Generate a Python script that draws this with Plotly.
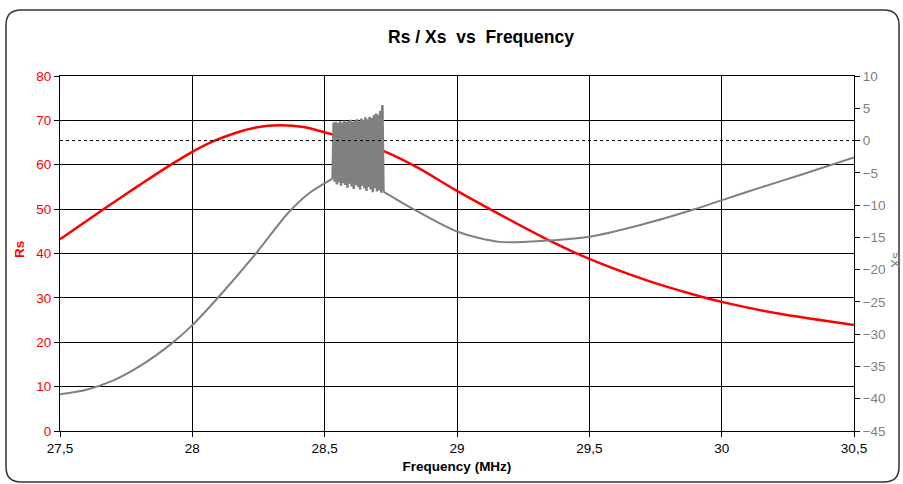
import plotly.graph_objects as go

# ---------------- data ----------------
freq_rs = [27.50, 27.67, 27.80, 27.90, 28.00, 28.08, 28.16, 28.24, 28.33, 28.42, 28.50, 28.62,
           28.73, 28.85, 29.00, 29.14, 29.34, 29.50, 29.72, 29.88, 30.00, 30.22, 30.50]
rs_vals = [43.2, 50.2, 55.4, 59.3, 62.9, 65.3, 67.1, 68.4, 68.9, 68.5, 67.3, 65.3,
           62.9, 59.4, 54.1, 49.5, 43.2, 38.8, 33.9, 31.0, 29.1, 26.4, 23.9]

freq_xs_pre = [27.50, 27.60, 27.70, 27.80, 27.92, 28.00, 28.10, 28.24, 28.36, 28.44, 28.53]
xs_pre = [-39.3, -38.6, -37.2, -35.0, -31.5, -28.6, -24.2, -17.5, -11.3, -8.2, -5.9]

freq_xs_noise = [28.530, 28.534, 28.538, 28.542, 28.546, 28.550, 28.554, 28.558, 28.562, 28.566,
                 28.570, 28.574, 28.578, 28.582, 28.586, 28.590, 28.594, 28.598, 28.602, 28.606,
                 28.610, 28.614, 28.618, 28.622, 28.626, 28.630, 28.634, 28.638, 28.642, 28.646,
                 28.650, 28.654, 28.658, 28.662, 28.666, 28.670, 28.674, 28.678, 28.682, 28.686,
                 28.690, 28.694, 28.698, 28.702, 28.706, 28.710, 28.714, 28.718, 28.722]
xs_noise = [-5.9, 2.8, -6.4, 2.9, -6.8, 2.7, -6.5, 3.0, -7.0, 2.8,
            -6.6, 3.1, -6.9, 2.9, -7.3, 3.0, -6.7, 3.2, -7.1, 2.9,
            -7.5, 3.1, -6.9, 3.3, -7.2, 3.0, -7.6, 3.4, -7.0, 3.2,
            -7.4, 3.6, -7.8, 3.3, -7.2, 3.7, -7.6, 3.5, -8.0, 3.9,
            -7.4, 4.2, -7.9, 4.0, -7.7, 4.6, -8.1, 5.5, -7.9]

freq_xs_post = [28.722, 28.83, 29.00, 29.16, 29.34, 29.50, 29.70, 29.90, 30.10, 30.30, 30.50]
xs_post = [-7.9, -10.5, -14.1, -15.7, -15.5, -14.9, -13.0, -10.6, -7.9, -5.3, -2.6]

x_ticks = [27.5, 28, 28.5, 29, 29.5, 30, 30.5]

# ---------------- figure ----------------
FONT = "Liberation Sans, Arial, sans-serif"
RED = "#ff0000"
GRAY = "#808080"

fig = go.Figure()
fig.add_trace(go.Scatter(x=freq_rs, y=rs_vals, mode="lines",
                         line=dict(color=RED, width=2.5, shape="spline", smoothing=0.8),
                         name="Rs", yaxis="y"))
fig.add_trace(go.Scatter(x=freq_xs_pre, y=xs_pre, mode="lines",
                         line=dict(color=GRAY, width=2, shape="spline", smoothing=0.8),
                         name="Xs", yaxis="y2"))
fig.add_trace(go.Scatter(x=freq_xs_noise, y=xs_noise, mode="lines", line=dict(color=GRAY, width=2.6),
                         name="Xs", yaxis="y2"))
fig.add_trace(go.Scatter(x=freq_xs_post, y=xs_post, mode="lines",
                         line=dict(color=GRAY, width=2, shape="spline", smoothing=0.8),
                         name="Xs", yaxis="y2"))

L, R, T, B, W, H = 60, 49, 76, 53, 903, 484
pw, ph = W - L - R, H - T - B


def P(px, py):
    return f"{(px - L) / pw:.5f},{(H - B - py) / ph:.5f}"


r = 15
x0, x1, y0, y1 = 6, 899, 10, 482
border = (f"M {P(x0, y0 + r)} Q {P(x0, y0)} {P(x0 + r, y0)} L {P(x1 - r, y0)} "
          f"Q {P(x1, y0)} {P(x1, y0 + r)} L {P(x1, y1 - r)} Q {P(x1, y1)} {P(x1 - r, y1)} "
          f"L {P(x0 + r, y1)} Q {P(x0, y1)} {P(x0, y1 - r)} Z")

fig.update_layout(
    width=W, height=H,
    margin=dict(l=L, r=R, t=T, b=B, autoexpand=False),
    paper_bgcolor="white", plot_bgcolor="white",
    separators=",.",
    showlegend=False,
    font=dict(family=FONT, size=13, color="black"),
    title=dict(text="<b>Rs / Xs\u00a0 vs\u00a0 Frequency</b>", x=481 / W, xref="container", xanchor="center",
               y=1 - 37 / H, yref="container", yanchor="middle", font=dict(size=17.5, family=FONT)),
    xaxis=dict(range=[27.5, 30.5], tickvals=x_ticks, showgrid=True, gridcolor="black", gridwidth=1,
               showline=True, linecolor="black", linewidth=1, mirror=True,
               ticks="outside", ticklen=5, tickcolor="black", zeroline=False,
               tickfont=dict(size=13.5, color="black"),
               title=dict(text="<b>Frequency (MHz)</b>", font=dict(size=13.5), standoff=6)),
    yaxis=dict(range=[0, 80], dtick=10, showgrid=True, gridcolor="black", gridwidth=1,
               showline=True, linecolor="black", linewidth=1, zeroline=False,
               ticks="outside", ticklen=5, tickcolor="black",
               tickfont=dict(size=13.5, color=RED)),
    yaxis2=dict(range=[-45, 10], dtick=5, overlaying="y", side="right", showgrid=False,
                showline=True, linecolor="black", linewidth=1, zeroline=False,
                ticks="outside", ticklen=5, tickcolor="black",
                tickfont=dict(size=13.5, color=GRAY)),
    annotations=[
        dict(text="<b>Rs</b>", xref="paper", yref="paper", x=(19 - L) / pw, y=(H - B - 250) / ph,
             textangle=-90, showarrow=False, xanchor="center", yanchor="middle",
             font=dict(size=13.5, color=RED, family=FONT)),
        dict(text="Xs", xref="paper", yref="paper", x=(895 - L) / pw, y=(H - B - 260) / ph,
             textangle=-90, showarrow=False, xanchor="center", yanchor="middle",
             font=dict(size=13.5, color=GRAY, family=FONT)),
    ],
    shapes=[
        dict(type="line", xref="paper", x0=0, x1=1, yref="y2", y0=0, y1=0,
             line=dict(color="black", width=1, dash="dot")),
        dict(type="path", xref="paper", yref="paper", path=border,
             line=dict(color="#333333", width=1.5), fillcolor="rgba(0,0,0,0)", layer="below"),
    ],
)

fig.write_html("out.html", config={"displayModeBar": False},
               post_script="document.body.style.margin='0px';document.body.style.overflow='hidden';")
